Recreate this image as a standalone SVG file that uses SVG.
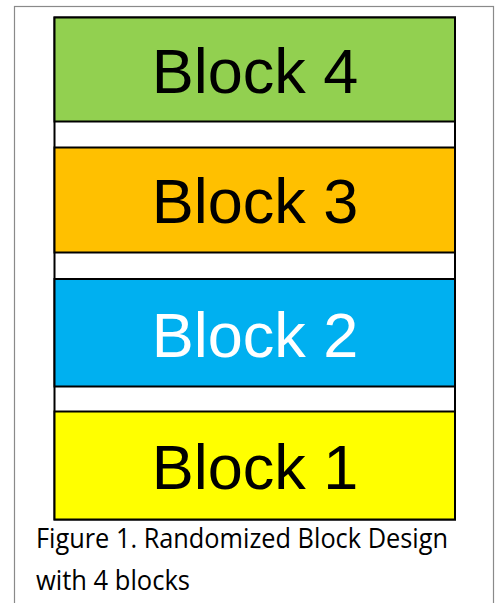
<svg xmlns="http://www.w3.org/2000/svg" width="498" height="603" viewBox="0 0 498 603">
  <style>
    .blk { stroke: #000; stroke-width: 2; }
    .lbl { font-family: "Liberation Sans", Arial, sans-serif; font-size: 63px; text-anchor: middle; }
    .cap { font-family: "Open Sans", "Liberation Sans", sans-serif; font-size: 28px; fill: #000; }
  </style>
  <rect width="498" height="603" fill="#fff"/>
  <!-- outer frame -->
  <rect x="14.5" y="6.5" width="479" height="620" fill="none" stroke="#8a8a8a" stroke-width="1.2"/>
  <!-- plot background -->
  <rect x="54.5" y="17.5" width="400.5" height="502" fill="#fff" class="blk"/>
  <g id="block4">
    <rect class="blk" x="54.5" y="17.5" width="400.5" height="104" fill="#92D050"/>
    <text class="lbl" x="255" y="93" fill="#000">Block 4</text>
  </g>
  <g id="block3">
    <rect class="blk" x="54.5" y="147.5" width="400.5" height="105" fill="#FFC000"/>
    <text class="lbl" x="255" y="222.5" fill="#000">Block 3</text>
  </g>
  <g id="block2">
    <rect class="blk" x="54.5" y="279" width="400.5" height="107.5" fill="#00B0F0"/>
    <text class="lbl" x="255" y="356.5" fill="#fff">Block 2</text>
  </g>
  <g id="block1">
    <rect class="blk" x="54.5" y="411.5" width="400.5" height="108" fill="#FFFF00"/>
    <text class="lbl" x="255" y="488.5" fill="#000">Block 1</text>
  </g>
  <g id="caption">
    <text class="cap" x="36" y="547.5" textLength="412" lengthAdjust="spacingAndGlyphs">Figure 1. Randomized Block Design</text>
    <text class="cap" x="36" y="590" textLength="154" lengthAdjust="spacingAndGlyphs">with 4 blocks</text>
  </g>
</svg>
